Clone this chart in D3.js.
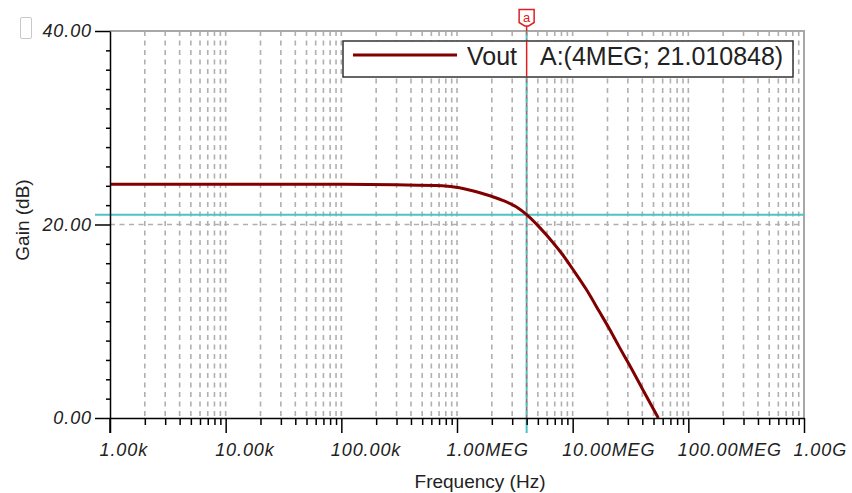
<!DOCTYPE html>
<html>
<head>
<meta charset="utf-8">
<script src="https://cdn.jsdelivr.net/npm/d3@7"></script>
<style>
  body { margin: 0; background: #fff; }
  svg { display: block; font-family: "Liberation Sans", Arial, sans-serif; }
</style>
</head>
<body>
<div id="chart"></div>
<script>
// values
var freqHz = [1e3, 1e4, 1e5, 3e5, 7.5e5, 1.05e6, 1.66e6, 2.48e6, 3.27e6, 4e6,
  5.17e6, 6.69e6, 8.17e6, 1e7, 13.1e6, 17.0e6, 20.8e6, 25.4e6, 30.9e6, 40.1e6, 55e6];
var gainDb = [24.15, 24.15, 24.15, 24.1, 24.0, 23.8, 23.2, 22.5, 21.8, 21.01,
  19.7, 18.2, 16.9, 15.4, 13.3, 11.0, 9.2, 7.3, 5.5, 3.0, 0];
var xTickValues = [1e3, 1e4, 1e5, 1e6, 1e7, 1e8, 1e9];
var xTickLabels = ['1.00k', '10.00k', '100.00k', '1.00MEG', '10.00MEG', '100.00MEG', '1.00G'];
var yTickValues = [0, 20, 40];
var yTickLabels = ['0.00', '20.00', '40.00'];
var cursorFreq = 4e6;
var cursorGain = 21.010848;
var seriesName = 'Vout';
var cursorText = 'A:(4MEG; 21.010848)';

var width = 852, height = 493;
var plotL = 110, plotR = 804, plotT = 31, plotB = 418;

var x = d3.scaleLog().domain([1e3, 1e9]).range([plotL, plotR]);
var y = d3.scaleLinear().domain([0, 40]).range([plotB, plotT]);

var svg = d3.select('#chart').append('svg')
  .attr('width', width)
  .attr('height', height);

// minor log positions (2..9 in each decade)
var minorFreqs = [];
xTickValues.slice(0, -1).forEach(function (d) {
  for (var k = 2; k <= 9; k++) { minorFreqs.push(d * k); }
});
var gridFreqs = minorFreqs.concat(xTickValues.slice(1, -1));

// vertical dashed grid
svg.append('g').selectAll('line')
  .data(gridFreqs)
  .enter().append('line')
  .attr('x1', function (d) { return x(d); })
  .attr('x2', function (d) { return x(d); })
  .attr('y1', plotT)
  .attr('y2', plotB)
  .attr('stroke', '#b0b0b0')
  .attr('stroke-width', 1.6)
  .attr('stroke-dasharray', '5,4.5');

// horizontal dashed grid at 20 dB
svg.append('line')
  .attr('x1', plotL).attr('x2', plotR)
  .attr('y1', y(20)).attr('y2', y(20))
  .attr('stroke', '#b0b0b0')
  .attr('stroke-width', 1.6)
  .attr('stroke-dasharray', '5,4.5');

// top and right border
svg.append('path')
  .attr('d', 'M' + plotL + ',' + plotT + 'H' + plotR + 'V' + plotB)
  .attr('fill', 'none')
  .attr('stroke', '#a8a8a8')
  .attr('stroke-width', 2);

// cursor lines
svg.append('line')
  .attr('x1', 95).attr('x2', plotR)
  .attr('y1', y(cursorGain)).attr('y2', y(cursorGain))
  .attr('stroke', '#4cc4c4')
  .attr('stroke-width', 2);
svg.append('line')
  .attr('x1', x(cursorFreq)).attr('x2', x(cursorFreq))
  .attr('y1', plotT).attr('y2', plotB + 15)
  .attr('stroke', '#4cc4c4')
  .attr('stroke-width', 2);
svg.append('line')
  .attr('x1', x(cursorFreq)).attr('x2', x(cursorFreq))
  .attr('y1', plotT).attr('y2', plotB)
  .attr('stroke', '#e05050')
  .attr('stroke-width', 1)
  .attr('stroke-dasharray', '4,4');

// curve
var line = d3.line()
  .curve(d3.curveMonotoneX)
  .x(function (d) { return x(d[0]); })
  .y(function (d) { return y(d[1]); });

svg.append('path')
  .datum(d3.zip(freqHz, gainDb))
  .attr('d', line)
  .attr('fill', 'none')
  .attr('stroke', '#800000')
  .attr('stroke-width', 3);

// X axis
var xAxis = svg.append('g')
  .attr('transform', 'translate(0,' + plotB + ')')
  .call(d3.axisBottom(x)
    .tickValues(xTickValues)
    .tickSizeInner(15)
    .tickSizeOuter(0)
    .tickPadding(10)
    .tickFormat(function (d, i) { return xTickLabels[i]; }));
xAxis.select('.domain').attr('stroke', '#000').attr('stroke-width', 1.5);
xAxis.selectAll('.tick line').attr('stroke', '#000').attr('stroke-width', 1.5);
xAxis.selectAll('.tick text')
  .attr('text-anchor', 'start')
  .attr('dx', -11)
  .attr('fill', '#222')
  .style('font-size', '18px')
  .style('font-style', 'italic')
  .style('letter-spacing', '0.9px');

svg.append('g')
  .attr('transform', 'translate(0,' + plotB + ')')
  .call(d3.axisBottom(x).tickValues(minorFreqs).tickSize(7).tickFormat(''))
  .call(function (g) { g.select('.domain').remove(); })
  .selectAll('.tick line').attr('stroke', '#000').attr('stroke-width', 1.5);

// Y axis
var yAxis = svg.append('g')
  .attr('transform', 'translate(' + plotL + ',0)')
  .call(d3.axisLeft(y)
    .tickValues(yTickValues)
    .tickSizeInner(15)
    .tickSizeOuter(0)
    .tickPadding(3)
    .tickFormat(function (d, i) { return yTickLabels[i]; }));
yAxis.select('.domain').attr('stroke', '#000').attr('stroke-width', 1.5);
yAxis.selectAll('.tick line').attr('stroke', '#000').attr('stroke-width', 1.5);
yAxis.selectAll('.tick text')
  .attr('fill', '#222')
  .style('font-size', '18px')
  .style('font-style', 'italic')
  .style('letter-spacing', '0.9px');

svg.append('g')
  .attr('transform', 'translate(' + plotL + ',0)')
  .call(d3.axisLeft(y).tickValues(d3.range(2, 40, 2).filter(function (v) { return v !== 20; }))
    .tickSize(4).tickFormat(''))
  .call(function (g) { g.select('.domain').remove(); })
  .selectAll('.tick line').attr('stroke', '#000').attr('stroke-width', 1.5);

// left axis runs down to the major tick length
svg.append('line')
  .attr('x1', plotL).attr('x2', plotL)
  .attr('y1', plotB).attr('y2', plotB + 15)
  .attr('stroke', '#000').attr('stroke-width', 1.5);

// axis titles
svg.append('text')
  .attr('x', 480).attr('y', 488)
  .attr('text-anchor', 'middle')
  .attr('fill', '#222')
  .style('font-size', '19px')
  .text('Frequency (Hz)');
svg.append('text')
  .attr('transform', 'translate(29,220) rotate(-90)')
  .attr('text-anchor', 'middle')
  .attr('fill', '#222')
  .style('font-size', '19px')
  .text('Gain (dB)');

// legend
var legend = svg.append('g');
legend.append('rect')
  .attr('x', 343).attr('y', 41)
  .attr('width', 450).attr('height', 36)
  .attr('fill', '#fff')
  .attr('stroke', '#333')
  .attr('stroke-width', 1.5);
legend.append('line')
  .attr('x1', 353).attr('x2', 457)
  .attr('y1', 55).attr('y2', 55)
  .attr('stroke', '#800000')
  .attr('stroke-width', 3);
legend.append('text')
  .attr('x', 467).attr('y', 65)
  .attr('fill', '#222')
  .style('font-size', '25px')
  .text(seriesName);
legend.append('line')
  .attr('x1', x(cursorFreq)).attr('x2', x(cursorFreq))
  .attr('y1', 41).attr('y2', 77)
  .attr('stroke', '#e02020')
  .attr('stroke-width', 1.5);
legend.append('text')
  .attr('x', 540).attr('y', 65)
  .attr('fill', '#222')
  .style('font-size', '25px')
  .text(cursorText);

// cursor marker "a"
var cx = x(cursorFreq);
svg.append('line')
  .attr('x1', cx).attr('x2', cx)
  .attr('y1', 26).attr('y2', plotT)
  .attr('stroke', '#e02020')
  .attr('stroke-width', 1.5);
svg.append('path')
  .attr('d', 'M' + (cx - 7.5) + ',9.5H' + (cx + 7.5) + 'V22.5L' + (cx + 2) + ',26H' + (cx - 2) + 'L' + (cx - 7.5) + ',22.5Z')
  .attr('fill', '#fff')
  .attr('stroke', '#e02020')
  .attr('stroke-width', 1.5);
svg.append('text')
  .attr('x', cx).attr('y', 21.5)
  .attr('text-anchor', 'middle')
  .attr('fill', '#e02020')
  .style('font-size', '13px')
  .text('a');

// small empty box at top left
svg.append('rect')
  .attr('x', 20.5).attr('y', 17.5)
  .attr('width', 11).attr('height', 21)
  .attr('rx', 1.5)
  .attr('fill', 'none')
  .attr('stroke', '#c8c8c8')
  .attr('stroke-width', 1);
</script>
</body>
</html>
